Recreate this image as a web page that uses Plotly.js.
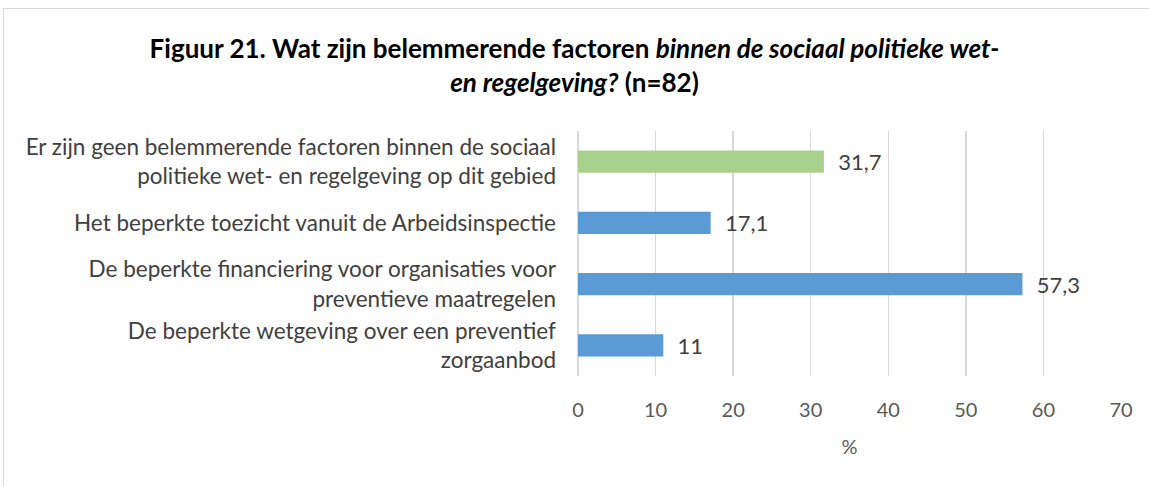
<!DOCTYPE html>
<html><head><meta charset="utf-8">
<script src="https://cdn.plot.ly/plotly-3.0.1.min.js"></script>
<style>
html,body{margin:0;padding:0;background:#fff;}
#chart{width:1149px;height:486px;position:absolute;left:0;top:0;}
#frame{position:absolute;left:3px;top:8px;width:1160px;height:500px;border:1.5px solid #d9d9d9;pointer-events:none;}
</style></head>
<body>
<div id="chart"></div>
<div id="frame"></div>
<script>
const categories = [
  "Er zijn geen belemmerende factoren binnen de sociaal<br>politieke wet- en regelgeving op dit gebied",
  "Het beperkte toezicht vanuit de Arbeidsinspectie",
  "De beperkte financiering voor organisaties voor<br>preventieve maatregelen",
  "De beperkte wetgeving over een preventief<br>zorgaanbod"
];
const values = [31.7, 17.1, 57.3, 11];
const barColors = ["#A9D18E", "#5B9BD5", "#5B9BD5", "#5B9BD5"];
const tickVals = [0, 10, 20, 30, 40, 50, 60, 70];

const labels = values.map(v => "  " + String(v).replace(".", ","));

const font = "Lato, Open Sans, sans-serif";

Plotly.newPlot("chart", [{
  type: "bar",
  orientation: "h",
  x: values,
  y: categories,
  marker: {color: barColors},
  width: 0.36,
  text: labels,
  textposition: "outside",
  constraintext: "none",
  cliponaxis: false,
  textfont: {family: font, size: 22, color: "#404040"},
  hoverinfo: "x+y"
}], {
  width: 1149, height: 486,
  margin: {l: 578, r: 28, t: 131, b: 110, pad: 0},
  paper_bgcolor: "#fff", plot_bgcolor: "#fff",
  showlegend: false,
  title: {
    text: "<b>Figuur 21. Wat zijn belemmerende factoren <i>binnen de sociaal politieke wet-</i></b><br><b><i>en regelgeving?</i> (n=82)</b>",
    font: {family: font, size: 26, color: "#000"},
    x: 0.5, xref: "container", xanchor: "center",
    y: 0.881, yref: "container", yanchor: "middle"
  },
  xaxis: {
    range: [0, 70], tickvals: tickVals, ticktext: tickVals.map(String),
    showgrid: true, gridcolor: "#d9d9d9", gridwidth: 1.5,
    zeroline: true, zerolinecolor: "#d9d9d9", zerolinewidth: 1.5,
    showline: false, ticks: "",
    tickfont: {family: font, size: 20, color: "#595959"},
    ticklabelstandoff: 20,
    title: {text: "%", font: {family: font, size: 20, color: "#595959"}, standoff: 19},
    fixedrange: true
  },
  yaxis: {
    autorange: "reversed",
    showgrid: false, zeroline: false, showline: false, ticks: "",
    tickfont: {family: font, size: 22.5, color: "#404040"},
    ticklabelstandoff: 21,
    fixedrange: true
  }
}, {displayModeBar: false, staticPlot: true});
</script>
</body></html>
